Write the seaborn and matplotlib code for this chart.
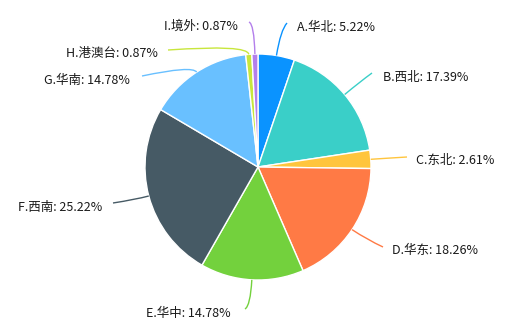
import numpy as np
import matplotlib
matplotlib.use("Agg")
import matplotlib.pyplot as plt
import seaborn as sns
from matplotlib.path import Path
from matplotlib.patches import PathPatch

sns.set_theme(style="white")
plt.rcParams['font.family'] = ['Noto Sans CJK SC', 'DejaVu Sans']

categories = ["A.华北", "B.西北", "C.东北", "D.华东", "E.华中", "F.西南", "G.华南", "H.港澳台", "I.境外"]
values = [5.22, 17.39, 2.61, 18.26, 14.78, 25.22, 14.78, 0.87, 0.87]
colors = ["#0A93FF", "#3ACFC8", "#FFC53D", "#FF7A45", "#73D13D", "#465A65", "#69C0FF", "#C8E63C", "#B37FEB"]

# layout (pixel coords): radial length of first leg, line end, text pos, alignment
layout = [
    (26, (287, 23), (297, 27), "left"),
    (20, (372, 73), (383, 78), "left"),
    (12, (407, 157), (416, 160), "left"),
    (18, (383, 247), (392, 250), "left"),
    (26, (245, 309), (146, 313), "left"),
    (14, (113, 203), (102, 207), "right"),
    (8, (142, 76), (130, 80), "right"),
    (10, (168, 50), (158, 53), "right"),
    (30, (249, 22), (238, 26), "right"),
]

W, H = 524, 326
fig = plt.figure(figsize=(W / 100, H / 100), dpi=100)
ax = fig.add_axes([0, 0, 1, 1])
cx, cy, R = 258, 167, 113

wedges, _ = ax.pie(values, colors=colors, startangle=-90, counterclock=True,
                   center=(cx, cy), radius=R,
                   wedgeprops=dict(edgecolor="white", linewidth=1))
ax.set_xlim(0, W)
ax.set_ylim(H, 0)
ax.set_aspect("equal")
ax.axis("off")

for w, cat, val, col, (l1, end, tpos, ha) in zip(wedges, categories, values, colors, layout):
    mid = np.deg2rad((w.theta1 + w.theta2) / 2)
    d = np.array([np.cos(mid), np.sin(mid)])
    p0 = np.array([cx, cy]) + R * d
    p1 = p0 + l1 * d
    path = Path([p0, p1, end], [Path.MOVETO, Path.CURVE3, Path.CURVE3])
    ax.add_patch(PathPatch(path, facecolor="none", edgecolor=col, linewidth=1))
    ax.text(tpos[0], tpos[1], f"{cat}: {val:.2f}%", ha=ha, va="center",
            fontsize=9, color="#1a1a1a")

fig.savefig("out.png", dpi=100, facecolor="white")
